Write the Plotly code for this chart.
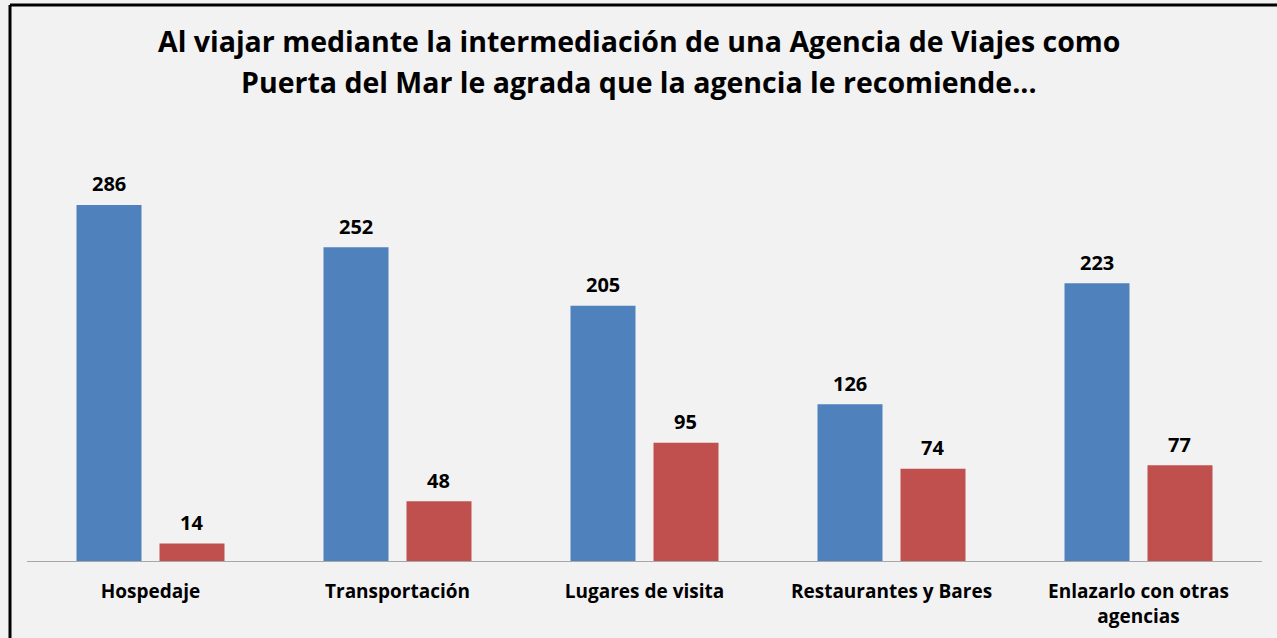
import plotly.graph_objects as go

categories = ["Hospedaje", "Transportación", "Lugares de visita", "Restaurantes y Bares", "Enlazarlo con otras<br>agencias"]
serie_si = [286, 252, 205, 126, 223]
serie_no = [14, 48, 95, 74, 77]
title_line1 = "Al viajar mediante la intermediación de una Agencia de Viajes como"
title_line2 = "Puerta del Mar le agrada que la agencia le recomiende..."

W, H = 1277, 638
ML, MR, MT, MB = 27, 15, 150, 77
pw = W - ML - MR
ph = H - MT - MB
px_per_unit = 1.245
BARGAP, BARGROUPGAP = 0.328, 0.217

font_family = "'Open Sans', Lato, sans-serif"
label_color = "#000000"

fig = go.Figure()
for vals, color, name in [(serie_si, "#4f81bd", "Sí"), (serie_no, "#c0504d", "No")]:
    fig.add_trace(go.Bar(
        x=categories, y=vals, name=name,
        marker=dict(color=color, line=dict(width=0)),
        hoverinfo="x+y",
    ))

# data labels placed above each bar (grouped offsets: half a bar slot)
slot = pw / len(categories) * (1 - BARGAP) / 2
for vals, sign in [(serie_si, -1), (serie_no, 1)]:
    for c, v in zip(categories, vals):
        fig.add_annotation(x=c, y=v, xref="x", yref="y", text="<b>%d</b>" % v,
                           showarrow=False, xshift=sign * slot / 2, yshift=21,
                           yanchor="middle",
                           font=dict(family=font_family, size=20, color=label_color))

# title lines
cx = 0.5 + (W / 2 - ML - pw / 2) / pw
for line, ypx in [(title_line1, 41), (title_line2, 82)]:
    fig.add_annotation(xref="paper", yref="paper", x=cx, y=(H - MB - ypx) / ph,
                       text="<b>" + line + "</b>", showarrow=False,
                       xanchor="center", yanchor="middle",
                       font=dict(family=font_family, size=28.5, color="#000000"))

# border (left and top)
lx = (10 - ML) / pw
ty = (H - MB - 5) / ph
fig.add_shape(type="line", xref="paper", yref="paper", x0=lx, x1=lx, y0=-0.5, y1=ty,
              line=dict(color="#000000", width=3))
fig.add_shape(type="line", xref="paper", yref="paper", x0=lx, x1=1.2, y0=ty, y1=ty,
              line=dict(color="#000000", width=3))

fig.update_layout(
    width=W, height=H,
    margin=dict(l=ML, r=MR, t=MT, b=MB, pad=0, autoexpand=False),
    paper_bgcolor="#f2f2f2", plot_bgcolor="#f2f2f2",
    barmode="group", bargap=BARGAP, bargroupgap=BARGROUPGAP,
    showlegend=False,
    font=dict(family=font_family, color="#000000"),
    xaxis=dict(showline=True, linecolor="#a6a6a6", linewidth=1, ticks="",
               tickfont=dict(family=font_family, size=19, color="#000000"),
               showgrid=False, ticklabelstandoff=13, automargin=False,
               tickvals=categories,
               ticktext=["<b>" + c.replace("<br>", "</b><br><b>") + "</b>" for c in categories]),
    yaxis=dict(range=[0, ph / px_per_unit], visible=False, showgrid=False, zeroline=False,
               automargin=False),
)
fig.write_html("out.html", config={"displayModeBar": False},
               post_script="document.body.style.margin='0px';")
